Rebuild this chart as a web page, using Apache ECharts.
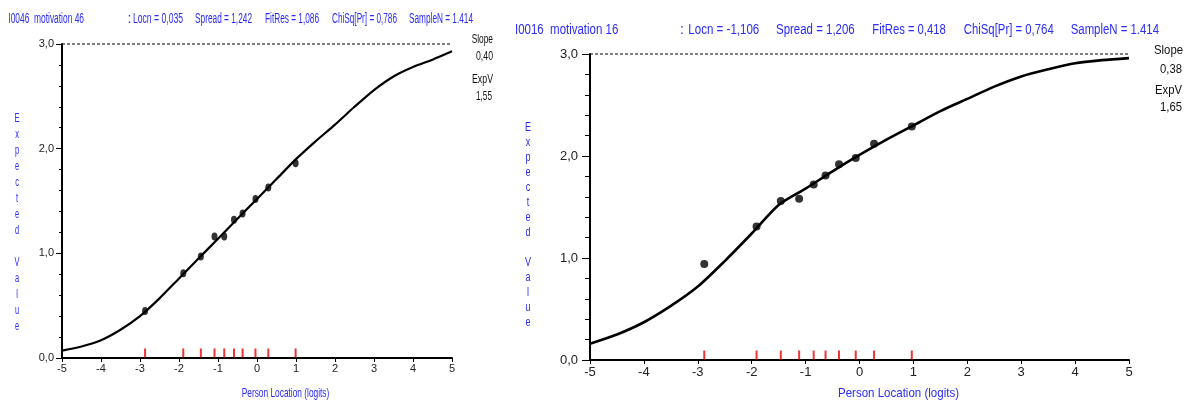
<!DOCTYPE html>
<html><head><meta charset="utf-8">
<script src="https://cdn.jsdelivr.net/npm/echarts@6/dist/echarts.min.js"></script>
<style>html,body{margin:0;padding:0;background:#fff}#c{width:1186px;height:401px}</style>
</head><body><div id="c"></div>
<script>
// ---------------- data ----------------
const xTicks = [-5,-4,-3,-2,-1,0,1,2,3,4,5];
const yTicks = [0,1,2,3];
const curveX = [-5,-4.5,-4,-3.5,-3,-2.5,-2,-1.5,-1,-0.5,0,0.5,1,1.5,2,2.5,3,3.5,4,4.5,5];
const leftCurve  = [0.07,0.11,0.17,0.27,0.40,0.57,0.76,0.95,1.14,1.33,1.52,1.71,1.90,2.07,2.23,2.40,2.56,2.69,2.78,2.85,2.93];
const rightCurve = [0.16,0.25,0.37,0.53,0.72,0.97,1.24,1.52,1.68,1.85,2.01,2.16,2.30,2.44,2.56,2.68,2.78,2.85,2.91,2.94,2.96];
const leftLoc  = [-2.87,-1.89,-1.44,-1.09,-0.84,-0.59,-0.37,-0.04,0.29,0.99];
const leftObs  = [0.45,0.81,0.97,1.16,1.16,1.32,1.38,1.52,1.63,1.86];
const rightLoc = [-2.88,-1.91,-1.46,-1.12,-0.85,-0.63,-0.38,-0.07,0.27,0.97];
const rightObs = [0.94,1.31,1.56,1.58,1.72,1.81,1.92,1.98,2.12,2.29];
const thresholdLine = [3, 3];
const leftHeader  = ['I0046  motivation 46', ':', 'Locn = 0,035', 'Spread = 1,242', 'FitRes = 1,086', 'ChiSq[Pr] = 0,786', 'SampleN = 1.414'];
const rightHeader = ['I0016  motivation 16', ':', 'Locn = -1,106', 'Spread = 1,206', 'FitRes = 0,418', 'ChiSq[Pr] = 0,764', 'SampleN = 1.414'];
const leftStats  = ['Slope', '0,40', 'ExpV', '1,55'];
const rightStats = ['Slope', '0,38', 'ExpV', '1,65'];
const yTitle = 'Expected Value';
const xTitle = 'Person Location (logits)';

// ---------------- layout / style ----------------
const FONT = '"Liberation Sans", Arial, sans-serif';
const BLUE = '#2a2aff';
const INK = '#111';
const ctx = document.createElement('canvas').getContext('2d');
function fitScale(text, size, width) {
  if (!width) return 1;
  ctx.font = size + 'px ' + FONT;
  return width / ctx.measureText(text).width;
}
function txt(text, x, y, size, width, color, align, extra) {
  return Object.assign({
    type: 'text', x: x, y: y, scaleX: fitScale(text, size, width), silent: true,
    style: { text: text, fontSize: size, fontFamily: FONT, fill: color, align: align || 'left', verticalAlign: 'middle' }
  }, extra || {});
}
const leftHeaderPos  = [[8.3, 75.7], [127.5, 0], [133, 50], [195, 57], [265, 54], [332, 65], [409, 64]];
const rightHeaderPos = [[515, 103.3], [680, 0], [688.3, 71], [776, 78.7], [872.3, 73.4], [963.7, 90], [1070.7, 88.3]];
const leftStatPos  = [[471.7, 39, 21.3, 'left'], [493, 56.7, 17, 'right'], [472, 79, 21, 'left'], [492, 96, 16, 'right']];
const rightStatPos = [[1154, 50, 29, 'left'], [1182, 69, 22, 'right'], [1155, 90, 27, 'left'], [1182, 107, 22, 'right']];

const graphics = [];
leftHeader.forEach((s, i) => graphics.push(txt(s, leftHeaderPos[i][0], 19.5, 14, leftHeaderPos[i][1], BLUE)));
rightHeader.forEach((s, i) => graphics.push(txt(s, rightHeaderPos[i][0], 30, 14, rightHeaderPos[i][1], BLUE)));
leftStats.forEach((s, i) => graphics.push(txt(s, leftStatPos[i][0], leftStatPos[i][1], 13, leftStatPos[i][2], INK, leftStatPos[i][3])));
rightStats.forEach((s, i) => graphics.push(txt(s, rightStatPos[i][0], rightStatPos[i][1], 13, rightStatPos[i][2], INK, rightStatPos[i][3])));
const vText = yTitle.split(' ').map(w => w.split('').join('\n')).join('\n\n');
graphics.push({ type: 'text', x: 17, y: 110.3, scaleX: 0.62, silent: true,
  style: { text: vText, fontSize: 12, fontFamily: FONT, fill: BLUE, align: 'center', verticalAlign: 'top', lineHeight: 16 } });
graphics.push({ type: 'text', x: 528, y: 119.8, scaleX: 0.75, silent: true,
  style: { text: vText, fontSize: 12, fontFamily: FONT, fill: BLUE, align: 'center', verticalAlign: 'top', lineHeight: 15 } });
graphics.push(txt(xTitle, 285.5, 393, 13, 87.6, BLUE, 'center'));
graphics.push(txt(xTitle, 898.5, 393, 13, 121, BLUE, 'center'));

const fmtY = v => v.toFixed(1).replace('.', ',');
function xAxisCfg(gi, fs, margin) {
  return {
    type: 'value', gridIndex: gi, min: xTicks[0], max: xTicks[xTicks.length - 1], interval: 1,
    axisLine: { show: true, onZero: false, lineStyle: { color: '#000', width: 2 } },
    axisTick: { show: true, length: 4, lineStyle: { color: '#000', width: 1 } },
    axisLabel: { fontSize: fs, fontFamily: FONT, color: '#222', margin: margin, formatter: v => String(v) },
    splitLine: { show: false }
  };
}
function yAxisCfg(gi, fs, margin, tl, ml) {
  return {
    type: 'value', gridIndex: gi, min: yTicks[0], max: yTicks[yTicks.length - 1], interval: 1,
    axisLine: { show: true, onZero: false, lineStyle: { color: '#000', width: 2 } },
    axisTick: { show: true, length: tl, lineStyle: { color: '#000', width: 1 } },
    minorTick: { show: true, splitNumber: 5, length: ml, lineStyle: { color: '#000', width: 1 } },
    axisLabel: { fontSize: fs, fontFamily: FONT, color: '#222', margin: margin, formatter: fmtY },
    splitLine: { show: false }, minorSplitLine: { show: false }
  };
}
const zip = (a, b) => a.map((v, i) => [v, b[i]]);
function seriesFor(i, curve, loc, obs, sym, lw) {
  return [
    { type: 'line', xAxisIndex: i, yAxisIndex: i, data: zip([xTicks[0], xTicks[xTicks.length - 1]], thresholdLine),
      showSymbol: false, silent: true, clip: false, lineStyle: { color: '#000', width: 1, type: [3, 2] }, z: 1 },
    { type: 'line', xAxisIndex: i, yAxisIndex: i, data: zip(curveX, curve), showSymbol: false, smooth: 0.25,
      clip: false, lineStyle: { color: '#000', width: lw }, z: 3 },
    { type: 'scatter', xAxisIndex: i, yAxisIndex: i, data: zip(loc, obs), symbol: 'circle', symbolSize: sym,
      clip: false, itemStyle: { color: '#000' }, z: 4 },
    { type: 'scatter', xAxisIndex: i, yAxisIndex: i, data: loc.map(v => [v, 0]), symbol: 'rect',
      symbolSize: [2, 9], symbolOffset: [0, -5], clip: false, itemStyle: { color: '#ee0000' }, z: 2 }
  ];
}

const chart = echarts.init(document.getElementById('c'), null, { renderer: 'canvas' });
chart.setOption({
  backgroundColor: '#fff',
  animation: false,
  grid: [
    { left: 62, top: 44, width: 390, height: 314 },
    { left: 590, top: 54, width: 539, height: 306 }
  ],
  xAxis: [xAxisCfg(0, 11, 5), xAxisCfg(1, 13, 6)],
  yAxis: [yAxisCfg(0, 11, 8, 6, 3), yAxisCfg(1, 13, 12, 8, 5)],
  series: seriesFor(0, leftCurve, leftLoc, leftObs, [6, 8], 2.2).concat(seriesFor(1, rightCurve, rightLoc, rightObs, [8, 8], 2.6)),
  graphic: graphics
});
</script></body></html>
